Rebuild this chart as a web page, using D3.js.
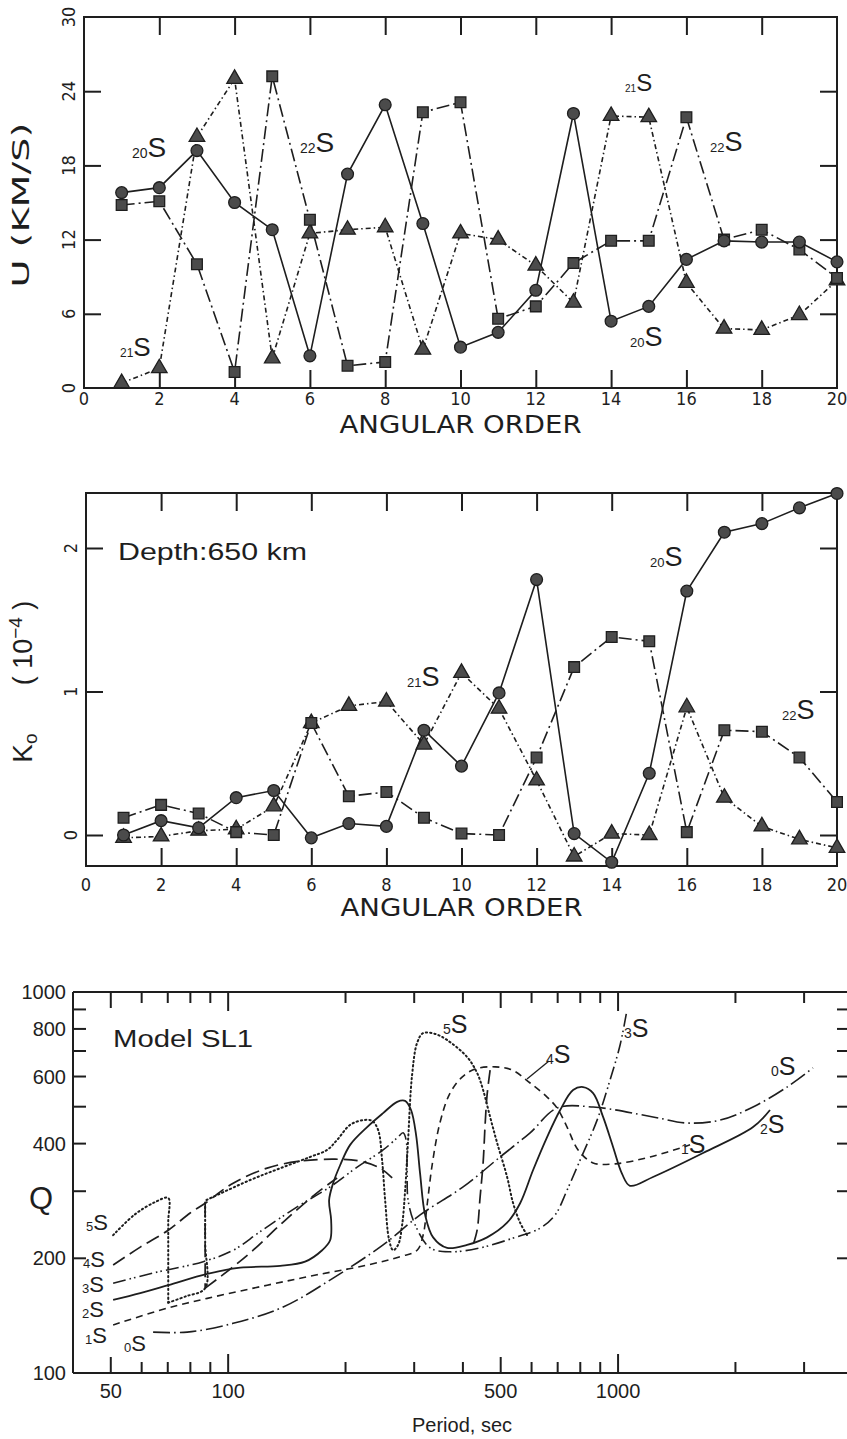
<!DOCTYPE html>
<html><head><meta charset="utf-8">
<script src="https://cdn.jsdelivr.net/npm/d3@7"></script>
<style>body{margin:0;background:#fff}svg{display:block}</style>
</head><body><svg id="c" width="847" height="1439"></svg>
<script>
// ---------------- data ----------------
const orders = d3.range(1, 21);
const orderTicks = d3.range(0, 21, 2);
const uTicks = [0, 6, 12, 18, 24, 30];
const kTicks = [0, 1, 2];
const U_20S = [15.8,16.2,19.2,15.0,12.8,2.6,17.3,22.9,13.3,3.3,4.5,7.9,22.2,5.4,6.6,10.4,11.9,11.8,11.8,10.2];
const U_21S = [0.4,1.6,20.3,25.0,2.4,12.5,12.8,13.0,3.1,12.5,12.0,9.9,6.9,22.0,21.9,8.5,4.8,4.7,5.9,8.7];
const U_22S = [14.8,15.1,10.0,1.3,25.2,13.6,1.8,2.1,22.3,23.1,5.6,6.6,10.1,11.9,11.9,21.9,12.0,12.8,11.2,8.9];
const K_20S = [0.0,0.10,0.05,0.26,0.31,-0.02,0.08,0.06,0.73,0.48,0.99,1.78,0.01,-0.19,0.43,1.70,2.11,2.17,2.28,2.38];
const K_21S = [-0.02,-0.01,0.03,0.04,0.20,0.78,0.90,0.93,0.63,1.13,0.88,0.38,-0.15,0.01,0.00,0.89,0.26,0.06,-0.03,-0.09];
const K_22S = [0.12,0.21,0.15,0.02,0.00,0.78,0.27,0.30,0.12,0.01,0.00,0.54,1.17,1.38,1.35,0.02,0.73,0.72,0.54,0.23];

const periodLabels = [50, 100, 500, 1000];
const periodTicks = [50,60,70,80,90,100,200,300,400,500,600,700,800,900,1000,2000,3000];
const qLabels = [100, 200, 400, 600, 800, 1000];
const qTicks = [200,300,400,500,600,700,800,900];
// Q vs period, each mode is a list of branch segments [period (s), Q]
const Q_5S = [
 [[50.7,230],[57.7,261],[65,281],[70.2,288],[70.2,250],[70.2,210],[70.2,153]],
 [[70.2,153],[78,159],[87.3,167],[87.3,220],[87.3,284]],
 [[88,284.5],[113.9,321],[138.4,347],[162.2,369],[179.4,385],[190.3,409],[205.5,448],[221.9,461],[233.9,459],[242.5,434],[248.2,362],[252.7,284],[258.8,223],[264.9,210],[272.9,217],[279.4,245],[284.4,302],[289.4,409],[296.3,606],[305.2,735],[316.2,780],[339.5,776],[364.4,748],[410.1,675],[435,613],[450.7,553],[469.7,470],[489.5,402],[519.3,327],[538.1,279],[560.8,248],[584.5,230]]
];
const Q_4S = [
 [[50.7,192],[59.5,214],[70.2,237],[79.9,263],[87.3,279],[103,315],[125.9,345],[153,360],[188.1,364],[218,360],[245.3,345],[263.4,325]],
 [[87.3,279],[87.3,220],[87.3,167]],
 [[87.3,167],[103,190],[115.9,210],[138.4,249],[169,297],[190.3,325]],
 [[469.7,624],[461.4,537],[456,448],[450.7,356],[442.8,290],[435,237],[424.9,217]]
];
const Q_3S = [
 [[50.7,172],[64.2,183],[86.3,196],[103,210],[120.8,235],[150.3,273],[182.6,308],[214.2,347],[249.7,385],[271.3,414],[281,427],[286,409],[287.7,341],[289.4,284],[301.6,245],[329.6,213],[370.9,208],[442.8,213],[538.1,226],[631,240],[689.5,260],[740,302],[799.1,362],[883.5,461],[953.9,588],[1012,726],[1054,897]]
];
const Q_2S = [
 [[50.7,155.5],[59.5,162],[70.2,170],[88.4,182],[107.4,189],[136,191],[157.5,196],[174.2,210],[182.6,223],[183.7,252],[181.5,284],[185.9,315],[193.7,351],[205.5,397],[227.2,442],[249.7,481],[271.3,515],[284.4,518],[294.5,490],[303.4,421],[310.7,333],[320,260],[335.5,227],[364.4,213],[410.1,217],[461.4,227],[519.3,248],[560.8,279],[605.5,341],[657.6,416],[710.4,490],[766.7,553],[813.4,563],[862.8,543],[915.3,470],[970.9,392],[1024,333],[1073,310],[1229,327],[1652,378],[2219,442],[2453,490]]
];
const Q_1S = [
 [[50.7,133.7],[69.8,148],[88.4,157],[125.9,170],[169,181],[227.2,192],[276.1,202],[305.2,210],[316.2,230],[323.8,276],[333.6,352],[349.7,456],[370.9,543],[398.1,598],[429.9,628],[483.7,636],[534.9,624],[594.9,577],[657.6,530],[697.6,496],[740,442],[789.8,385],[862.8,356],[982.4,354],[1208,369],[1530,397]]
];
const Q_0S = [
 [[64.2,128],[78.5,128],[103,135],[138.4,149],[185.9,177.5],[249.7,217],[310.7,260],[400.5,308],[498.3,369],[594.9,427],[697.6,496],[862.8,499],[1229,470],[1503,453],[1826,461],[2219,499],[2712,563],[3162,632]]
];

// ---------------- drawing ----------------
const svg = d3.select("#c");
const ink = "#1e1e1e";
const markFill = "#4b4b4b";
const fPlot = "'Liberation Sans Narrow','DejaVu Sans Condensed','DejaVu Sans',sans-serif";
const fSans = "'Liberation Sans',Arial,sans-serif";

function sLabel(g, x, y, sub, subSize, sSize, font) {
  const t = g.append("text").attr("x", x).attr("y", y).attr("fill", ink)
    .attr("font-family", font || fSans);
  t.append("tspan").attr("font-size", subSize).text(sub);
  t.append("tspan").attr("font-size", sSize).attr("dy", -1).text("S");
  return t;
}

function orderPanel(cfg) {
  const g = svg.append("g");
  const x = d3.scaleLinear([0, 20], cfg.xr);
  const y = d3.scaleLinear(cfg.yd, cfg.yr);
  const top = cfg.top, bot = cfg.bot, L = x(0), R = x(20);
  g.append("rect").attr("x", L).attr("y", top).attr("width", R - L).attr("height", bot - top)
    .attr("fill", "none").attr("stroke", ink).attr("stroke-width", 2);
  const inner = d3.range(2, 20, 2);
  g.append("g").attr("transform", `translate(0,${top})`)
    .call(d3.axisTop(x).tickValues(inner).tickSizeInner(-18).tickSizeOuter(0).tickFormat(""));
  g.append("g").attr("transform", `translate(0,${bot})`)
    .call(d3.axisBottom(x).tickValues(inner).tickSizeInner(-18).tickSizeOuter(0).tickFormat(""));
  g.append("g").attr("transform", `translate(${L},0)`)
    .call(d3.axisLeft(y).tickValues(cfg.yTickMarks).tickSizeInner(-17).tickSizeOuter(0).tickFormat(""));
  g.append("g").attr("transform", `translate(${R},0)`)
    .call(d3.axisRight(y).tickValues(cfg.yTickMarks).tickSizeInner(-17).tickSizeOuter(0).tickFormat(""));
  g.selectAll(".domain").remove();
  g.selectAll(".tick line").attr("stroke", ink).attr("stroke-width", 2);

  g.selectAll(".xl").data(orderTicks).join("text").attr("class", "xl")
    .attr("x", d => x(d)).attr("y", cfg.xlab).attr("text-anchor", "middle")
    .attr("font-family", fPlot).attr("font-size", 18).attr("fill", ink).text(d => d);
  g.selectAll(".yl").data(cfg.yLabels).join("text").attr("class", "yl")
    .attr("transform", d => `translate(${L - 9},${y(d)}) rotate(-90)`)
    .attr("text-anchor", "middle").attr("font-family", fPlot).attr("font-size", 18)
    .attr("fill", ink).text(d => d);
  g.append("text").attr("x", (L + R) / 2).attr("y", cfg.xtitle).attr("text-anchor", "middle")
    .attr("font-family", fPlot).attr("font-size", 25).attr("fill", ink)
    .attr("textLength", 242).attr("lengthAdjust", "spacingAndGlyphs").text("ANGULAR ORDER");

  const series = [
    {v: cfg.s20, dash: null, mark: "circle"},
    {v: cfg.s21, dash: "5,3,1.5,3", mark: "tri"},
    {v: cfg.s22, dash: "13,4,2,4", mark: "sq"}
  ];
  const line = d3.line().x((d, i) => x(orders[i])).y(d => y(d));
  series.forEach(s => {
    g.append("path").attr("d", line(s.v)).attr("fill", "none").attr("stroke", ink)
      .attr("stroke-width", 1.6).attr("stroke-dasharray", s.dash);
  });
  [series[1], series[2], series[0]].forEach(s => {
    const m = g.selectAll(null).data(s.v).join("path")
      .attr("transform", (d, i) => `translate(${x(orders[i])},${y(d)})`)
      .attr("fill", markFill).attr("stroke", ink).attr("stroke-width", 1.3);
    if (s.mark === "circle") m.attr("d", d3.symbol(d3.symbolCircle, 110)());
    if (s.mark === "sq") m.attr("d", d3.symbol(d3.symbolSquare, 115)());
    if (s.mark === "tri") m.attr("d", d3.symbol(d3.symbolTriangle, 105)());
  });
  return {g, x, y};
}

// ---- panel 1 : U ----
const p1 = orderPanel({xr: [84, 837], yd: [0, 30], yr: [388, 17], top: 17, bot: 388,
  yTickMarks: [6, 12, 18, 24], yLabels: uTicks, xlab: 405, xtitle: 433,
  s20: U_20S, s21: U_21S, s22: U_22S});
p1.g.append("text").attr("transform", "translate(29,205) rotate(-90)").attr("text-anchor", "middle")
  .attr("font-family", fPlot).attr("font-size", 23).attr("fill", ink)
  .attr("textLength", 165).attr("lengthAdjust", "spacingAndGlyphs").text("U (KM/S)");
sLabel(p1.g, 132, 158, "20", 14, 28);
sLabel(p1.g, 300, 153, "22", 14, 28);
sLabel(p1.g, 120, 357, "21", 12, 26);
sLabel(p1.g, 625, 92, "21", 10, 24);
sLabel(p1.g, 710, 152, "22", 13, 27);
sLabel(p1.g, 630, 347, "20", 13, 27);

// ---- panel 2 : K0 ----
const p2 = orderPanel({xr: [86, 837], yd: [0, 1], yr: [835, 691.5], top: 493, bot: 866,
  yTickMarks: kTicks, yLabels: kTicks, xlab: 891, xtitle: 916,
  s20: K_20S, s21: K_21S, s22: K_22S});
const ka = p2.g.append("text").attr("transform", "translate(32,748) rotate(-90)")
  .attr("text-anchor", "middle").attr("font-family", fSans).attr("font-size", 28).attr("fill", ink);
ka.append("tspan").text("K");
ka.append("tspan").attr("font-size", 19).attr("dy", 5).text("o");
const kb = p2.g.append("text").attr("transform", "translate(32,643) rotate(-90)")
  .attr("text-anchor", "middle").attr("font-family", fSans).attr("font-size", 27).attr("fill", ink);
kb.append("tspan").text("( 10");
kb.append("tspan").attr("font-size", 19).attr("dy", -10).text("−4");
kb.append("tspan").attr("dy", 10).text(" )");
p2.g.append("text").attr("x", 118).attr("y", 560).attr("font-family", fSans).attr("font-size", 24)
  .attr("fill", ink).attr("textLength", 189).attr("lengthAdjust", "spacingAndGlyphs").text("Depth:650 km");
sLabel(p2.g, 407, 687, "21", 13, 27);
sLabel(p2.g, 650, 567, "20", 13, 27);
sLabel(p2.g, 782, 720, "22", 13, 27);

// ---- panel 3 : Q ----
const g3 = svg.append("g");
const xq = d3.scaleLog([40, 3934], [73, 850]);
const yq = d3.scaleLog([100, 1000], [1373, 992]);
g3.append("line").attr("x1", 73).attr("x2", 73).attr("y1", 992).attr("y2", 1373).attr("stroke", ink).attr("stroke-width", 2);
g3.append("line").attr("x1", 73).attr("x2", 850).attr("y1", 992).attr("y2", 992).attr("stroke", ink).attr("stroke-width", 2);
g3.append("line").attr("x1", 73).attr("x2", 850).attr("y1", 1373).attr("y2", 1373).attr("stroke", ink).attr("stroke-width", 2);
const tlen = d => (d === 100 || d === 1000) ? 19 : (d === 50 || d === 500) ? 16 : 11;
g3.selectAll(".tb").data(periodTicks).join("line").attr("class", "tb")
  .attr("x1", d => xq(d)).attr("x2", d => xq(d)).attr("y1", 1373).attr("y2", d => 1373 - tlen(d))
  .attr("stroke", ink).attr("stroke-width", 2);
g3.selectAll(".tt").data(periodTicks).join("line").attr("class", "tt")
  .attr("x1", d => xq(d)).attr("x2", d => xq(d)).attr("y1", 992).attr("y2", d => 992 + tlen(d))
  .attr("stroke", ink).attr("stroke-width", 2);
g3.selectAll(".tl").data(qTicks).join("line").attr("class", "tl")
  .attr("x1", 73).attr("x2", 86).attr("y1", d => yq(d)).attr("y2", d => yq(d))
  .attr("stroke", ink).attr("stroke-width", 2);
g3.selectAll(".tr").data(qTicks).join("line").attr("class", "tr")
  .attr("x1", 837).attr("x2", 850).attr("y1", d => yq(d)).attr("y2", d => yq(d))
  .attr("stroke", ink).attr("stroke-width", 2);
g3.selectAll(".ql").data(qLabels).join("text").attr("class", "ql")
  .attr("x", 66).attr("y", d => yq(d) + 7).attr("text-anchor", "end")
  .attr("font-family", fSans).attr("font-size", 20).attr("fill", ink).text(d => d);
g3.selectAll(".pl").data(periodLabels).join("text").attr("class", "pl")
  .attr("x", d => xq(d)).attr("y", 1398).attr("text-anchor", "middle")
  .attr("font-family", fSans).attr("font-size", 20).attr("fill", ink).text(d => d);
g3.append("text").attr("x", 462).attr("y", 1432).attr("text-anchor", "middle")
  .attr("font-family", fSans).attr("font-size", 20).attr("fill", ink).text("Period, sec");
g3.append("text").attr("x", 41).attr("y", 1209).attr("text-anchor", "middle")
  .attr("font-family", fSans).attr("font-size", 31).attr("fill", ink).text("Q");
g3.append("text").attr("x", 113).attr("y", 1047).attr("font-family", fSans).attr("font-size", 23)
  .attr("fill", ink).attr("textLength", 140).attr("lengthAdjust", "spacingAndGlyphs").text("Model  SL1");

const qLine = d3.line().x(d => xq(d[0])).y(d => yq(d[1])).curve(d3.curveCatmullRom.alpha(0.5));
const modes = [
  {segs: Q_5S, dash: "1.3,3", w: 2.0, cap: "round"},
  {segs: Q_4S, dash: "14,6", w: 1.7},
  {segs: Q_3S, dash: "13,4,1.6,3,1.6,4", w: 1.6},
  {segs: Q_2S, dash: null, w: 1.8},
  {segs: Q_1S, dash: "7,5", w: 1.6},
  {segs: Q_0S, dash: "17,4,1.6,4", w: 1.6}
];
modes.forEach(m => m.segs.forEach(s => {
  g3.append("path").attr("d", qLine(s)).attr("fill", "none").attr("stroke", ink)
    .attr("stroke-width", m.w).attr("stroke-dasharray", m.dash).attr("stroke-linecap", m.cap || "butt");
}));
// mode labels
sLabel(g3, 86, 1231, "5", 13, 22);
sLabel(g3, 83, 1268, "4", 13, 22);
sLabel(g3, 82, 1293, "3", 13, 22);
sLabel(g3, 82, 1318, "2", 13, 22);
sLabel(g3, 85, 1344, "1", 13, 22);
sLabel(g3, 124, 1352, "0", 13, 22);
sLabel(g3, 443, 1034, "5", 14, 25);
sLabel(g3, 546, 1064, "4", 14, 25);
sLabel(g3, 624, 1038, "3", 14, 25);
sLabel(g3, 771, 1076, "0", 14, 25);
sLabel(g3, 760, 1134, "2", 14, 25);
sLabel(g3, 681, 1154, "1", 14, 25);
g3.append("line").attr("x1", 527).attr("y1", 1079).attr("x2", 549).attr("y2", 1061).attr("stroke", ink).attr("stroke-width", 1.3);
</script></body></html>
